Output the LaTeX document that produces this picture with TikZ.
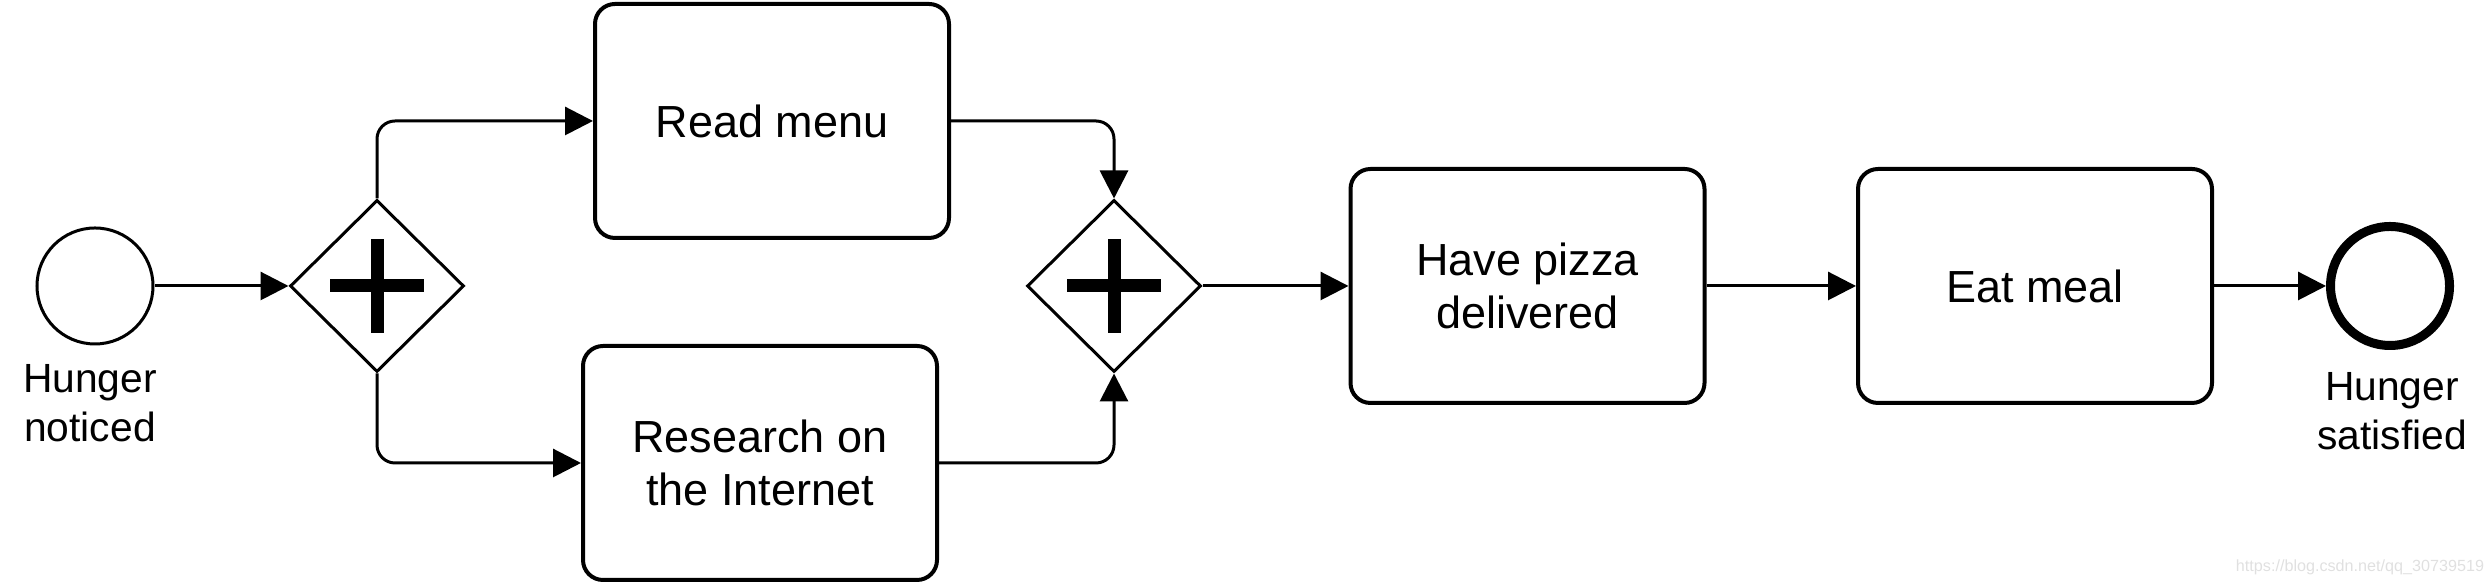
\documentclass[tikz,border=0pt]{standalone}
\usepackage{fontspec}
\setmainfont{Liberation Sans}
\usetikzlibrary{shapes.geometric,arrows.meta}

\tikzset{
	task/.style={draw, line width=0.04cm, rounded corners=0.2cm, minimum width=3.54cm, minimum height=2.34cm, align=center, inner sep=0, font=\fontsize{12.8}{15.1}\selectfont},
	event/.style={draw, circle, line width=0.03cm, minimum size=1.16cm, inner sep=0},
	endevent/.style={draw, circle, line width=0.09cm, minimum size=1.19cm, inner sep=0},
	gateway/.style={draw, diamond, line width=0.03cm, minimum width=1.74cm, minimum height=1.72cm, inner sep=0,
		path picture={
			\fill ([xshift=-0.47cm,yshift=-0.065cm]path picture bounding box.center) rectangle ([xshift=0.47cm,yshift=0.065cm]path picture bounding box.center);
			\fill ([xshift=-0.065cm,yshift=-0.47cm]path picture bounding box.center) rectangle ([xshift=0.065cm,yshift=0.47cm]path picture bounding box.center);
		}},
	flow/.style={line width=0.03cm, rounded corners=0.18cm, -{Triangle[length=0.28cm,width=0.28cm]}},
	evlabel/.style={align=center, inner sep=0, font=\fontsize{11.6}{14.2}\selectfont}
}

\begin{document}
\begin{tikzpicture}[]
	%\draw[help lines] (0,0) grid (25,6);
	\useasboundingbox (0,0) rectangle (24.91,5.84);
	% events
	\node[event] (start) at (0.95,2.98) {};
	\node[evlabel, anchor=base] (startlabel) at (0.90,1.42) {Hunger\\noticed};
	\node[endevent] (end) at (23.90,2.98) {};
	\node[evlabel, anchor=base] (endlabel) at (23.92,1.34) {Hunger\\satisfied};
	% gateways
	\node[gateway] (split) at (3.77,2.98) {};
	\node[gateway] (join) at (11.14,2.98) {};
	% tasks
	\node[task] (read) at (7.72,4.63) {Read menu};
	\node[task] (research) at (7.60,1.21) {Research on\\the Internet};
	\node[task] (pizza) at (15.275,2.98) {Have pizza\\delivered};
	\node[task] (eat) at (20.35,2.98) {Eat meal};
	% sequence flows
	\draw[flow] (start) -- (split);
	\draw[flow] (split.north) |- (read.west);
	\draw[flow] (split.south) |- (research.west);
	\draw[flow] (read.east) -| (join.north);
	\draw[flow] (research.east) -| (join.south);
	\draw[flow] (join.east) -- (pizza.west);
	\draw[flow] (pizza) -- (eat);
	\draw[flow] (eat) -- (end);
	\node[anchor=base, inner sep=0, text=black!12, font=\fontsize{4.6}{5}\selectfont] (mark) at (23.60,0.12) {https://blog.csdn.net/qq\_30739519};
\end{tikzpicture}
\end{document}
